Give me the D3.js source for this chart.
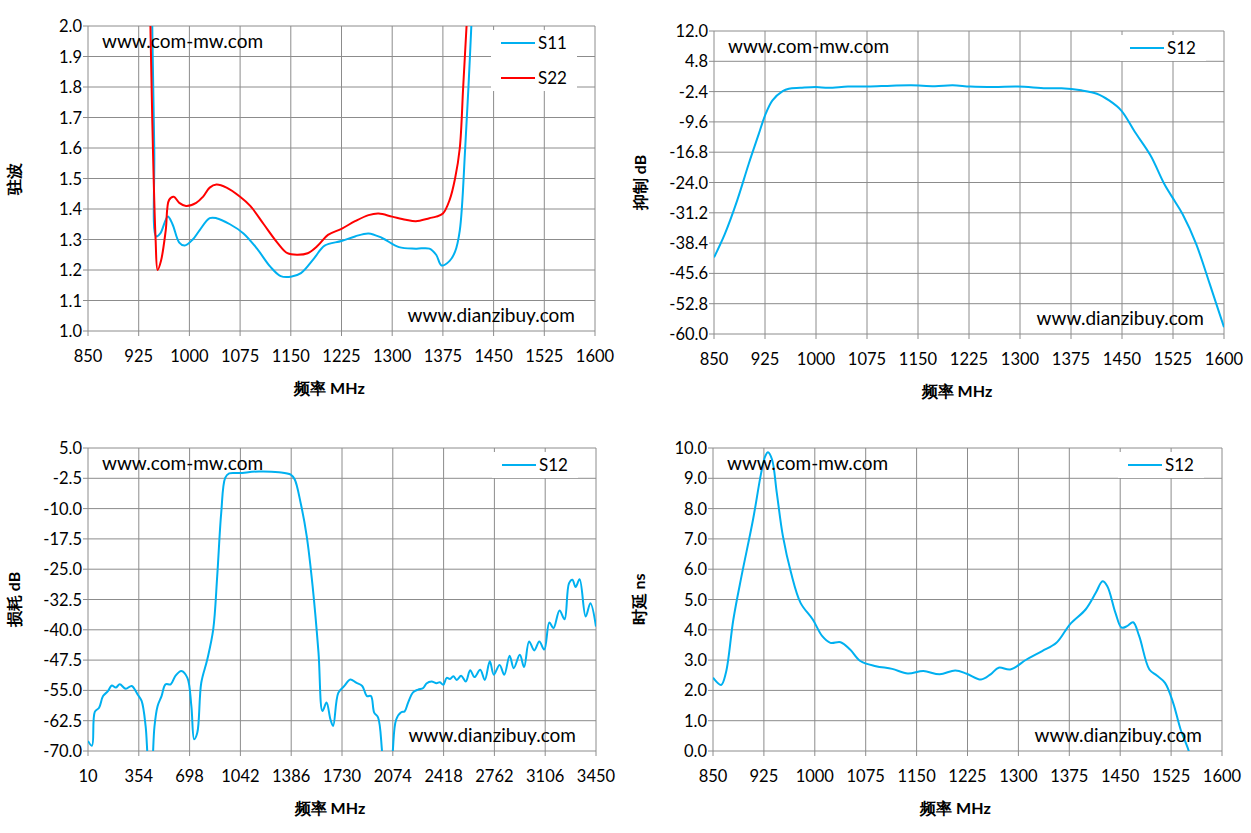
<!DOCTYPE html>
<html>
<head>
<meta charset="utf-8">
<script src="https://cdn.jsdelivr.net/npm/d3@7"></script>
<style>
body { margin: 0; background: #fff; }
svg text { font-family: Lato, "Open Sans", sans-serif; }
</style>
</head>
<body>
<svg id="chart" width="1251" height="833"></svg>
<script>
// ---- data ----
var vswrTicks = [1.0, 1.1, 1.2, 1.3, 1.4, 1.5, 1.6, 1.7, 1.8, 1.9, 2.0];
var freqTicks = [850, 925, 1000, 1075, 1150, 1225, 1300, 1375, 1450, 1525, 1600];
var s11Vswr = [[943,2.3],[948,1.6],[951,1.31],[957,1.32],[968,1.375],[975,1.35],[985,1.29],[993,1.28],[1005,1.3],[1015,1.33],[1030,1.37],[1040,1.37],[1060,1.35],[1080,1.32],[1100,1.27],[1120,1.21],[1135,1.18],[1150,1.178],[1165,1.19],[1185,1.24],[1200,1.28],[1225,1.295],[1245,1.31],[1265,1.32],[1285,1.305],[1310,1.275],[1335,1.27],[1355,1.27],[1365,1.25],[1373,1.215],[1385,1.23],[1393,1.26],[1400,1.33],[1408,1.6],[1415,1.9],[1421,2.2]];
var s22Vswr = [[940,2.3],[945,1.7],[950,1.3],[953,1.2],[958,1.23],[965,1.33],[970,1.43],[977,1.44],[985,1.42],[995,1.41],[1010,1.42],[1020,1.44],[1030,1.47],[1040,1.48],[1055,1.47],[1075,1.44],[1090,1.41],[1110,1.35],[1130,1.29],[1145,1.255],[1160,1.25],[1175,1.255],[1190,1.28],[1205,1.315],[1225,1.335],[1245,1.36],[1265,1.38],[1280,1.385],[1300,1.375],[1320,1.365],[1335,1.36],[1355,1.37],[1365,1.375],[1375,1.385],[1385,1.43],[1393,1.5],[1400,1.6],[1405,1.8],[1410,2.0],[1415,2.2]];

var rejTicks = [-60.0, -52.8, -45.6, -38.4, -31.2, -24.0, -16.8, -9.6, -2.4, 4.8, 12.0];
var rejS12 = [[850,-41.8],[866,-36.2],[884,-28.3],[901,-19.6],[916,-12.4],[925,-8.1],[936,-4.5],[951,-2.3],[960,-1.7],[977,-1.5],[1000,-1.3],[1018,-1.5],[1047,-1.2],[1076,-1.2],[1111,-1.0],[1140,-0.9],[1175,-1.1],[1201,-0.9],[1227,-1.2],[1262,-1.3],[1297,-1.2],[1338,-1.6],[1361,-1.6],[1390,-2.1],[1413,-2.9],[1431,-4.5],[1449,-6.9],[1469,-12],[1492,-17.6],[1512,-24.3],[1527,-28.3],[1539,-31.5],[1559,-38.6],[1579,-48.1],[1600,-58.4]];

var lossTicks = [-70.0, -62.5, -55.0, -47.5, -40.0, -32.5, -25.0, -17.5, -10.0, -2.5, 5.0];
var wideTicks = [10, 354, 698, 1042, 1386, 1730, 2074, 2418, 2762, 3106, 3450];
var lossS12 = [[10,-67.5],[37,-68.7],[56,-60.3],[85,-59.3],[112,-56.4],[145,-55.2],[171,-53.8],[198,-54.3],[225,-53.5],[266,-54.6],[306,-53.9],[346,-56],[373,-57.6],[400,-63.8],[415,-72],[435,-78],[448,-72],[460,-64],[481,-58.9],[508,-56.4],[535,-53.5],[570,-53.5],[602,-51.4],[642,-50.2],[683,-51.9],[710,-58.9],[729,-67.1],[750,-65.5],[777,-53.1],[818,-47.3],[858,-39.9],[885,-26.7],[912,-11.1],[939,-2.4],[966,-1.3],[1034,-1.2],[1168,-0.8],[1303,-1],[1383,-1.6],[1410,-2.8],[1450,-8.6],[1491,-16.8],[1531,-29.2],[1571,-45.7],[1598,-60.1],[1625,-58],[1652,-62.2],[1670,-63.8],[1705,-55.6],[1746,-53.9],[1786,-52.3],[1826,-53.1],[1867,-53.9],[1899,-56.4],[1926,-56.4],[1948,-60.5],[1974,-61.7],[2001,-70],[2020,-80],[2060,-80],[2074,-70],[2097,-62.2],[2131,-60.4],[2154,-60.2],[2177,-58.1],[2211,-55.5],[2245,-54.8],[2280,-54.4],[2302,-53.3],[2336,-52.8],[2370,-53.2],[2393,-53],[2416,-53.6],[2439,-51.9],[2461,-52.2],[2484,-51.5],[2507,-52.4],[2537,-51.4],[2568,-52.8],[2598,-50],[2627,-51.7],[2666,-49.9],[2697,-52.4],[2731,-47.8],[2758,-51.1],[2797,-48.7],[2829,-51.1],[2865,-46.4],[2893,-49.5],[2934,-46.2],[2963,-49.2],[2997,-42.9],[3032,-45.1],[3066,-42.9],[3100,-44.9],[3134,-38.2],[3162,-39.6],[3203,-35.2],[3237,-37.4],[3267,-28.5],[3290,-27.6],[3312,-29.4],[3339,-27.5],[3380,-36.7],[3412,-33.4],[3450,-39.2]];

var delayTicks = [0.0, 1.0, 2.0, 3.0, 4.0, 5.0, 6.0, 7.0, 8.0, 9.0, 10.0];
var delayS12 = [[850,2.42],[862,2.18],[869,2.58],[880,4.34],[892,5.77],[909,7.64],[921,9.18],[927,9.73],[931,9.86],[937,9.62],[944,8.52],[953,7.09],[965,5.88],[979,4.89],[997,4.34],[1011,3.79],[1023,3.57],[1038,3.59],[1052,3.35],[1067,2.97],[1090,2.8],[1114,2.71],[1137,2.56],[1160,2.64],[1184,2.53],[1207,2.66],[1224,2.55],[1245,2.36],[1259,2.53],[1271,2.75],[1288,2.69],[1312,3.02],[1335,3.3],[1356,3.57],[1376,4.18],[1399,4.67],[1414,5.22],[1424,5.6],[1431,5.44],[1443,4.56],[1452,4.07],[1460,4.12],[1469,4.25],[1478,3.79],[1493,2.69],[1504,2.49],[1516,2.25],[1528,1.59],[1539,0.71],[1551,0],[1560,-0.8]];

var BLUE = "#00b0f0", RED = "#ff0000", GRID = "#8c8c8c";
var svg = d3.select("#chart");

function drawPanel(p) {
    var x = d3.scaleLinear().domain([p.xt[0], p.xt[p.xt.length - 1]]).range([p.x0, p.x1]);
    var y = d3.scaleLinear().domain([p.yt[0], p.yt[p.yt.length - 1]]).range([p.y1, p.y0]);
    var g = svg.append("g");

    g.selectAll(".vg").data(p.xt).enter().append("line")
        .attr("x1", d => x(d)).attr("x2", d => x(d))
        .attr("y1", p.y0).attr("y2", p.y1 + 5)
        .attr("stroke", GRID).attr("stroke-width", 1);
    g.selectAll(".hg").data(p.yt).enter().append("line")
        .attr("x1", p.x0 - 5).attr("x2", p.x1)
        .attr("y1", d => y(d)).attr("y2", d => y(d))
        .attr("stroke", GRID).attr("stroke-width", 1);

    g.selectAll(".xl").data(p.xt).enter().append("text")
        .attr("x", d => x(d)).attr("y", p.y1 + 31)
        .attr("text-anchor", "middle").attr("font-size", 16.5).attr("fill", "#000")
        .text(d => d);
    g.selectAll(".yl").data(p.yt).enter().append("text")
        .attr("x", p.x0 - 6).attr("y", d => y(d) + 6)
        .attr("text-anchor", "end").attr("font-size", 16.5).attr("fill", "#000")
        .text(d => d.toFixed(1));

    // legend box hides grid
    g.append("rect").attr("x", p.x1 - 104).attr("y", p.y0 + 4)
        .attr("width", 86).attr("height", 26 + 35 * (p.series.length - 1))
        .attr("fill", "#fff");

    var clipId = "clip" + p.id;
    svg.append("clipPath").attr("id", clipId).append("rect")
        .attr("x", p.x0).attr("y", p.y0).attr("width", p.x1 - p.x0).attr("height", p.y1 - p.y0);

    var line = d3.line().x(d => x(d[0])).y(d => y(d[1])).curve(d3.curveCatmullRom.alpha(0.5));
    p.series.forEach(function(s, i) {
        g.append("path").attr("d", line(s.data))
            .attr("fill", "none").attr("stroke", s.color).attr("stroke-width", 2)
            .attr("clip-path", "url(#" + clipId + ")");
        var ly = p.y0 + 17 + i * 35;
        g.append("line").attr("x1", p.x1 - 94).attr("x2", p.x1 - 60)
            .attr("y1", ly).attr("y2", ly).attr("stroke", s.color).attr("stroke-width", 2);
        g.append("text").attr("x", p.x1 - 57).attr("y", ly + 6)
            .attr("font-size", 17).attr("fill", "#000").text(s.name);
    });

    g.append("text").attr("x", p.x0 + 14).attr("y", p.y0 + 22)
        .attr("font-size", 19).attr("fill", "#000").text("www.com-mw.com");
    g.append("text").attr("x", p.x1 - 20).attr("y", p.y1 - 9)
        .attr("text-anchor", "end").attr("font-size", 19).attr("fill", "#000").text("www.dianzibuy.com");

    g.append("text").attr("x", (p.x0 + p.x1) / 2 - 12).attr("y", p.y1 + 63)
        .attr("text-anchor", "middle").attr("font-size", 16).attr("font-weight", "bold")
        .attr("font-family", "'Noto Sans CJK SC', serif").text("频率  MHz");
    g.append("text")
        .attr("transform", "translate(" + (p.x0 - 68) + "," + ((p.y0 + p.y1) / 2) + ") rotate(-90)")
        .attr("text-anchor", "middle").attr("font-size", 16).attr("font-weight", "bold")
        .attr("font-family", "'Noto Sans CJK SC', serif").text(p.ytitle);
}

drawPanel({ id: 1, x0: 88, x1: 595, y0: 26, y1: 331, xt: freqTicks, yt: vswrTicks, ytitle: "驻波",
    series: [{ name: "S11", color: BLUE, data: s11Vswr }, { name: "S22", color: RED, data: s22Vswr }] });
drawPanel({ id: 2, x0: 714, x1: 1224, y0: 31, y1: 334, xt: freqTicks, yt: rejTicks, ytitle: "抑制 dB",
    series: [{ name: "S12", color: BLUE, data: rejS12 }] });
drawPanel({ id: 3, x0: 88, x1: 596, y0: 448, y1: 751, xt: wideTicks, yt: lossTicks, ytitle: "损耗 dB",
    series: [{ name: "S12", color: BLUE, data: lossS12 }] });
drawPanel({ id: 4, x0: 713, x1: 1222, y0: 448, y1: 751, xt: freqTicks, yt: delayTicks, ytitle: "时延 ns",
    series: [{ name: "S12", color: BLUE, data: delayS12 }] });
</script>
</body>
</html>
